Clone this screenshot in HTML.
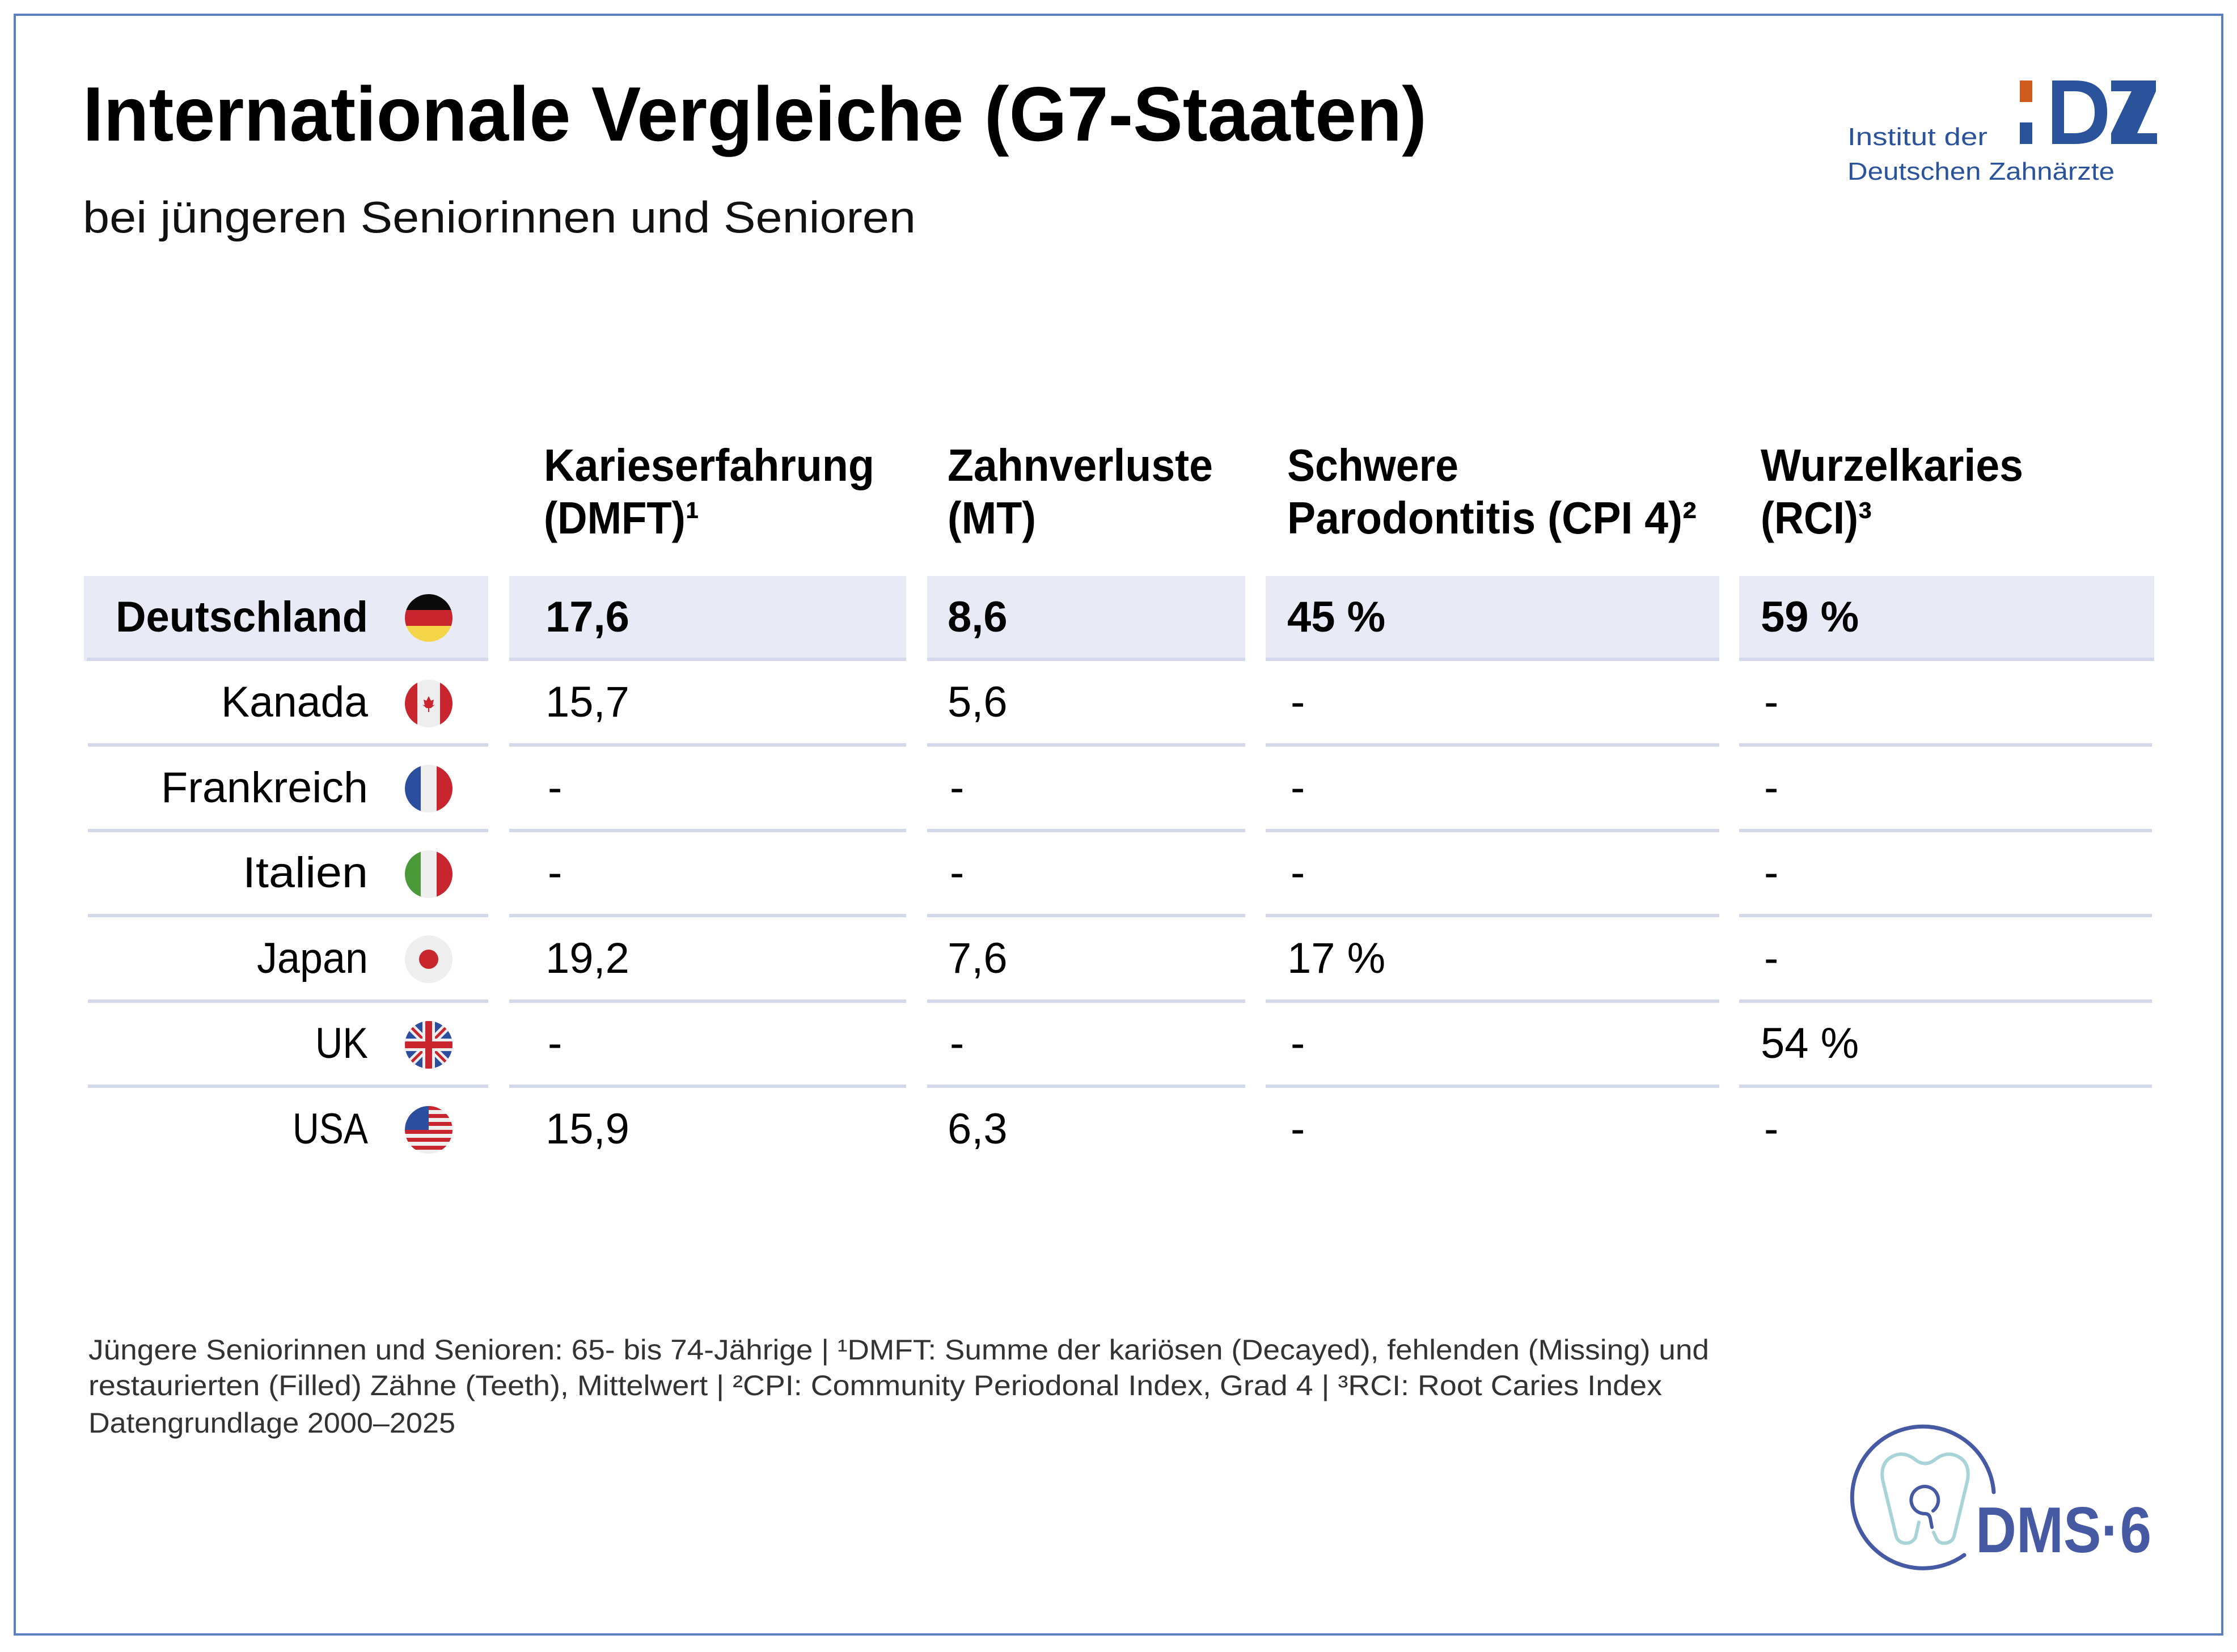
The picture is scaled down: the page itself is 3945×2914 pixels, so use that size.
<!DOCTYPE html>
<html><head><meta charset="utf-8"><style>
html,body{margin:0;padding:0;background:#fff}
svg{display:block}
text{font-family:"Liberation Sans",sans-serif}
</style></head><body>
<svg width="3945" height="2914" viewBox="0 0 3945 2914" xmlns="http://www.w3.org/2000/svg">
<defs>
<clipPath id="c"><circle cx="0" cy="0" r="42"/></clipPath>
</defs>
<rect x="0" y="0" width="3945" height="2914" fill="#fff"/>
<rect x="26" y="26" width="3893" height="2857" fill="none" stroke="#5b7fc0" stroke-width="4"/>

<text x="146" y="248" font-size="136" font-weight="bold" fill="#000" textLength="2370" lengthAdjust="spacingAndGlyphs">Internationale Vergleiche (G7-Staaten)</text>
<text x="146" y="410" font-size="78" fill="#111" textLength="1469" lengthAdjust="spacingAndGlyphs">bei jüngeren Seniorinnen und Senioren</text>

<!-- IDZ logo -->
<rect x="3562" y="142" width="22" height="38" fill="#cd5b1d"/>
<rect x="3562" y="216" width="22" height="38" fill="#2a539c"/>
<path d="M3619 142 H3660 Q3716 142 3716 198 Q3716 254 3660 254 H3640 V235 H3658 Q3694 235 3694 198 Q3694 161 3658 161 H3640 V254 H3619 Z" fill="#2a539c"/>
<path d="M3723 142 H3802 V161 L3769 235 H3804 V254 H3723 V235 L3759 161 H3723 Z" fill="#2a539c"/>
<text x="3258" y="256" font-size="44" fill="#2a539c" textLength="247" lengthAdjust="spacingAndGlyphs">Institut der</text>
<text x="3258" y="317" font-size="44" fill="#2a539c" textLength="471" lengthAdjust="spacingAndGlyphs">Deutschen Zahnärzte</text>

<!-- header -->
<g font-size="80" font-weight="bold" fill="#000">
<text x="959" y="848" textLength="583" lengthAdjust="spacingAndGlyphs">Karieserfahrung</text>
<text x="959" y="941" textLength="274" lengthAdjust="spacingAndGlyphs">(DMFT)¹</text>
<text x="1671" y="848" textLength="468" lengthAdjust="spacingAndGlyphs">Zahnverluste</text>
<text x="1671" y="941" textLength="156" lengthAdjust="spacingAndGlyphs">(MT)</text>
<text x="2270" y="848" textLength="302" lengthAdjust="spacingAndGlyphs">Schwere</text>
<text x="2270" y="941" textLength="722" lengthAdjust="spacingAndGlyphs">Parodontitis (CPI 4)²</text>
<text x="3105" y="848" textLength="463" lengthAdjust="spacingAndGlyphs">Wurzelkaries</text>
<text x="3105" y="941" textLength="196" lengthAdjust="spacingAndGlyphs">(RCI)³</text>
</g>

<!-- highlight row -->
<g fill="#e8ebf5">
<rect x="148" y="1016" width="713" height="150"/>
<rect x="898" y="1016" width="700" height="150"/>
<rect x="1635" y="1016" width="561" height="150"/>
<rect x="2232" y="1016" width="800" height="150"/>
<rect x="3067" y="1016" width="732" height="150"/>
</g>
<g fill="#d3d9ea">
<rect x="153" y="1160" width="708" height="6"/><rect x="898" y="1160" width="700" height="6"/><rect x="1635" y="1160" width="561" height="6"/><rect x="2232" y="1160" width="800" height="6"/><rect x="3067" y="1160" width="732" height="6"/>
<rect x="155" y="1311" width="706" height="6"/><rect x="898" y="1311" width="700" height="6"/><rect x="1635" y="1311" width="561" height="6"/><rect x="2232" y="1311" width="800" height="6"/><rect x="3067" y="1311" width="728" height="6"/>
<rect x="155" y="1462" width="706" height="6"/><rect x="898" y="1462" width="700" height="6"/><rect x="1635" y="1462" width="561" height="6"/><rect x="2232" y="1462" width="800" height="6"/><rect x="3067" y="1462" width="728" height="6"/>
<rect x="155" y="1612" width="706" height="6"/><rect x="898" y="1612" width="700" height="6"/><rect x="1635" y="1612" width="561" height="6"/><rect x="2232" y="1612" width="800" height="6"/><rect x="3067" y="1612" width="728" height="6"/>
<rect x="155" y="1763" width="706" height="6"/><rect x="898" y="1763" width="700" height="6"/><rect x="1635" y="1763" width="561" height="6"/><rect x="2232" y="1763" width="800" height="6"/><rect x="3067" y="1763" width="728" height="6"/>
<rect x="155" y="1913" width="706" height="6"/><rect x="898" y="1913" width="700" height="6"/><rect x="1635" y="1913" width="561" height="6"/><rect x="2232" y="1913" width="800" height="6"/><rect x="3067" y="1913" width="728" height="6"/>
</g>

<!-- country names -->
<g font-size="76" fill="#000" text-anchor="end">
<text x="649" y="1114" font-weight="bold" textLength="445" lengthAdjust="spacingAndGlyphs">Deutschland</text>
<text x="649" y="1264" textLength="259" lengthAdjust="spacingAndGlyphs">Kanada</text>
<text x="649" y="1415" textLength="365" lengthAdjust="spacingAndGlyphs">Frankreich</text>
<text x="649" y="1565" textLength="221" lengthAdjust="spacingAndGlyphs">Italien</text>
<text x="649" y="1716" textLength="196" lengthAdjust="spacingAndGlyphs">Japan</text>
<text x="649" y="1866" textLength="93" lengthAdjust="spacingAndGlyphs">UK</text>
<text x="649" y="2017" textLength="133" lengthAdjust="spacingAndGlyphs">USA</text>
</g>

<!-- values -->
<g font-size="76" fill="#000">
<g font-weight="bold">
<text x="962" y="1114">17,6</text><text x="1671" y="1114">8,6</text><text x="2270" y="1114">45 %</text><text x="3105" y="1114">59 %</text>
</g>
<text x="962" y="1264">15,7</text><text x="1671" y="1264">5,6</text><text x="2276" y="1264">-</text><text x="3111" y="1264">-</text>
<text x="966" y="1415">-</text><text x="1675" y="1415">-</text><text x="2276" y="1415">-</text><text x="3111" y="1415">-</text>
<text x="966" y="1565">-</text><text x="1675" y="1565">-</text><text x="2276" y="1565">-</text><text x="3111" y="1565">-</text>
<text x="962" y="1716">19,2</text><text x="1671" y="1716">7,6</text><text x="2270" y="1716">17 %</text><text x="3111" y="1716">-</text>
<text x="966" y="1866">-</text><text x="1675" y="1866">-</text><text x="2276" y="1866">-</text><text x="3105" y="1866">54 %</text>
<text x="962" y="2017">15,9</text><text x="1671" y="2017">6,3</text><text x="2276" y="2017">-</text><text x="3111" y="2017">-</text>
</g>

<!-- flags -->
<g transform="translate(756,1090)" clip-path="url(#c)">
<rect x="-42" y="-42" width="84" height="28" fill="#0a0a0a"/><rect x="-42" y="-14" width="84" height="28" fill="#c8252f"/><rect x="-42" y="14" width="84" height="28" fill="#f4d54a"/>
</g>
<g transform="translate(756,1241)" clip-path="url(#c)">
<rect x="-42" y="-42" width="84" height="84" fill="#eeeeee"/><rect x="-42" y="-42" width="22" height="84" fill="#c8252f"/><rect x="20" y="-42" width="22" height="84" fill="#c8252f"/>
<path d="M0 -13 L4 -5 L9 -7 L7 3 L11 2 L4 8 L1 8 L1 15 L-1 15 L-1 8 L-4 8 L-11 2 L-7 3 L-9 -7 L-4 -5 Z" fill="#c8252f"/>
</g>
<g transform="translate(756,1391)" clip-path="url(#c)">
<rect x="-42" y="-42" width="28" height="84" fill="#2b4f9e"/><rect x="-14" y="-42" width="28" height="84" fill="#eeeeee"/><rect x="14" y="-42" width="28" height="84" fill="#c8252f"/>
</g>
<g transform="translate(756,1542)" clip-path="url(#c)">
<rect x="-42" y="-42" width="28" height="84" fill="#4a9a3a"/><rect x="-14" y="-42" width="28" height="84" fill="#eeeeee"/><rect x="14" y="-42" width="28" height="84" fill="#c8252f"/>
</g>
<g transform="translate(756,1692)" clip-path="url(#c)">
<rect x="-42" y="-42" width="84" height="84" fill="#eeeeee"/><circle r="17" fill="#c8252f"/>
</g>
<g transform="translate(756,1843)" clip-path="url(#c)">
<rect x="-42" y="-42" width="84" height="84" fill="#2b4f9e"/>
<path d="M-42 -42 L42 42 M42 -42 L-42 42" stroke="#eee" stroke-width="14"/>
<path d="M-42 -42 L42 42 M42 -42 L-42 42" stroke="#c8252f" stroke-width="5"/>
<path d="M0 -42 V42 M-42 0 H42" stroke="#eee" stroke-width="22"/>
<path d="M0 -42 V42 M-42 0 H42" stroke="#c8252f" stroke-width="12"/>
</g>
<g transform="translate(756,1993)" clip-path="url(#c)">
<rect x="-42" y="-42" width="84" height="84" fill="#eeeeee"/>
<g fill="#c8252f"><rect x="-42" y="-42" width="84" height="7"/><rect x="-42" y="-28" width="84" height="7"/><rect x="-42" y="-14" width="84" height="7"/><rect x="-42" y="0" width="84" height="7"/><rect x="-42" y="14" width="84" height="7"/><rect x="-42" y="28" width="84" height="7"/></g>
<rect x="-42" y="-42" width="42" height="42" fill="#2b4f9e"/>
</g>

<!-- footnote -->
<g font-size="50" fill="#333">
<text x="156" y="2398" textLength="2858" lengthAdjust="spacingAndGlyphs">Jüngere Seniorinnen und Senioren: 65- bis 74-Jährige | ¹DMFT: Summe der kariösen (Decayed), fehlenden (Missing) und</text>
<text x="156" y="2461" textLength="2775" lengthAdjust="spacingAndGlyphs">restaurierten (Filled) Zähne (Teeth), Mittelwert | ²CPI: Community Periodonal Index, Grad 4 | ³RCI: Root Caries Index</text>
<text x="156" y="2527" textLength="647" lengthAdjust="spacingAndGlyphs">Datengrundlage 2000–2025</text>
</g>

<!-- DMS 6 logo -->
<path d="M3516 2632 A125 125 0 1 0 3464 2743" fill="none" stroke="#4659a3" stroke-width="7" stroke-linecap="round"/>
<path d="M3384 2685 L3378 2712 Q3372 2722 3362 2722 Q3348 2722 3344 2710 L3320 2610 Q3315 2575 3345 2566 Q3362 2562 3378 2575 Q3395 2588 3412 2575 Q3428 2562 3445 2566 Q3475 2575 3470 2610 L3446 2710 Q3442 2722 3428 2722 Q3418 2722 3414 2712 L3410 2703" fill="none" stroke="#a8d4d8" stroke-width="6" stroke-linecap="round"/>
<path d="M3409 2665 A24 24 0 1 0 3395 2670 Q3402 2670 3404 2678 L3407 2694" fill="none" stroke="#4659a3" stroke-width="6" stroke-linecap="round"/>
<text x="3484" y="2738" font-size="114" font-weight="bold" fill="#4659a3" textLength="310" lengthAdjust="spacingAndGlyphs">DMS·6</text>
</svg>
</body></html>
